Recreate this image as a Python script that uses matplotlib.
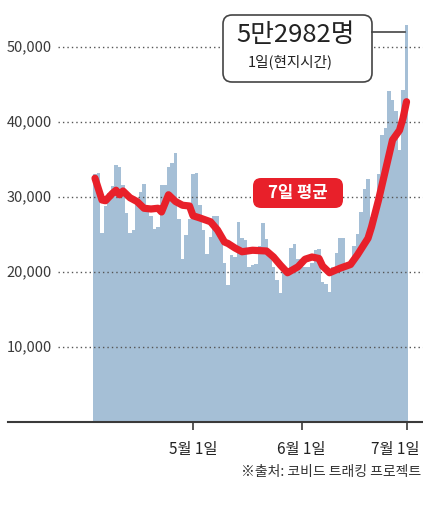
import numpy as np
import matplotlib.pyplot as plt
import matplotlib.dates as mdates
import matplotlib.transforms as mtransforms
from matplotlib.patches import FancyBboxPatch
from matplotlib.lines import Line2D

plt.rcParams['font.family'] = ['Noto Sans CJK KR', 'DejaVu Sans']

# daily new cases, Apr 3 - Jul 1 2020
first_day = np.datetime64('2020-04-03')
daily = [
    33000, 33200, 25200, 28800, 30500, 31500, 34300, 34000, 31600, 27900,
    25200, 25600, 29500, 30700, 31700, 28700, 27400, 25700, 26000, 31600,
    31600, 34000, 34600, 35900, 27000, 21800, 24900, 27100,
    # May
    33000, 33200, 28900, 25600, 22400, 24700, 27400, 27400, 24500, 21200,
    18300, 22300, 22000, 26700, 24500, 24300, 20700, 20900, 21100, 23500,
    26500, 24400, 22000, 20700, 18900, 17200, 20000, 20600, 23200, 23700,
    21800,
    # June
    21000, 20700, 20700, 21200, 23000, 23100, 18700, 18400, 17300, 20700,
    22500, 24500, 24500, 21000, 20500, 23500, 25000, 28000, 31000, 32400,
    27300, 27500, 33000, 38300, 39200, 44200, 43000, 41500, 36300, 44300,
    # Jul 1
    52982,
]
days = first_day + np.arange(len(daily))

# 7-day average line, vertices
avg_days = np.array(['2020-04-03', '2020-04-05', '2020-04-06', '2020-04-08', '2020-04-09',
                     '2020-04-10', '2020-04-11', '2020-04-13', '2020-04-15', '2020-04-17',
                     '2020-04-19', '2020-04-21', '2020-04-22', '2020-04-24', '2020-04-26',
                     '2020-04-28', '2020-04-30', '2020-05-01', '2020-05-03', '2020-05-06',
                     '2020-05-08', '2020-05-10', '2020-05-11', '2020-05-13', '2020-05-15',
                     '2020-05-18', '2020-05-22', '2020-05-24', '2020-05-26', '2020-05-28',
                     '2020-05-31', '2020-06-02', '2020-06-04', '2020-06-06', '2020-06-07',
                     '2020-06-09', '2020-06-12', '2020-06-15', '2020-06-17', '2020-06-20',
                     '2020-06-21', '2020-06-23', '2020-06-25', '2020-06-27', '2020-06-29',
                     '2020-06-30', '2020-07-01'], dtype='datetime64[D]')
avg_vals = [32500, 29600, 29500, 30500, 30900, 30300, 30800, 29900, 29400, 28500,
            28400, 28500, 28000, 30300, 29400, 28900, 28800, 27500, 27200, 26700,
            25600, 24000, 23800, 23200, 22700, 22900, 22800, 22000, 20900, 19900,
            20700, 21700, 22000, 21800, 20800, 19900, 20500, 21000, 22300, 24500,
            26000, 29600, 33600, 37600, 38900, 40500, 42700]

y_ticks = [10000, 20000, 30000, 40000, 50000]
x_ticks = np.array(['2020-05-01', '2020-06-01', '2020-07-01'], dtype='datetime64[D]')
x_labels = ['5월 1일', '6월 1일', '7월 1일']

bar_color = '#a5bfd6'
red = '#e8202a'
dark = '#3a3a3a'

fig = plt.figure(figsize=(4.23, 5.12), dpi=100)
ax = fig.add_axes([8 / 423, 90 / 512, 415 / 423, 420 / 512])

ax.bar(days, daily, width=1.0, color=bar_color, linewidth=0, zorder=1)

for v in y_ticks:
    ax.axhline(v, xmin=50 / 415, xmax=1, color='#555555', lw=1.0,
               linestyle=(0, (1, 2.2)), zorder=2)
    ax.text(44 / 415, v, f'{v:,}', transform=ax.get_yaxis_transform(),
            ha='right', va='center', fontsize=10.5, color=dark)

ax.plot(avg_days, avg_vals, color=red, lw=5.2, solid_capstyle='round',
        solid_joinstyle='round', zorder=3)

may1 = mdates.date2num(np.datetime64('2020-05-01'))
ax.set_xlim(may1 - 52.86, may1 + 65.71)
ax.set_ylim(0, 56000)

for s in ['top', 'right', 'left']:
    ax.spines[s].set_visible(False)
ax.spines['bottom'].set_color(dark)
ax.spines['bottom'].set_linewidth(1.5)
ax.set_yticks([])
ax.set_xticks(x_ticks)
ax.set_xticklabels(x_labels)
ax.tick_params(axis='x', length=6, width=1.2, color=dark, pad=8,
               labelsize=11, labelcolor='#222222')
# last label sits a little left of its tick so it stays on the canvas
last = ax.get_xticklabels()[-1]
last.set_transform(last.get_transform() +
                   mtransforms.ScaledTranslation(-8 / 72, 0, fig.dpi_scale_trans))

# red "7일 평균" label
fig.add_artist(FancyBboxPatch((253, 304), 90, 30, boxstyle='round,pad=0,rounding_size=8',
                              transform=None, facecolor=red, edgecolor='none'))
fig.text(298 / 423, 319 / 512, '7일 평균', ha='center', va='center', color='white',
         fontsize=12, fontweight='bold')

# callout box for the Jul 1 value
fig.add_artist(FancyBboxPatch((223, 430), 149, 67, boxstyle='round,pad=0,rounding_size=9',
                              transform=None, facecolor='white', edgecolor='#444444', lw=1.2))
fig.text(296 / 423, 477 / 512, '5만2982명', ha='center', va='center', fontsize=18.5,
         fontweight='medium', color='#222222')
fig.text(290 / 423, 450 / 512, '1일(현지시간)', ha='center', va='center', fontsize=10.5,
         color='#222222')
fig.add_artist(Line2D([372, 405], [480, 480], transform=None, color='#444444', lw=1.2))

fig.text(421 / 423, 40 / 512, '※출처: 코비드 트래킹 프로젝트', ha='right', va='center',
         fontsize=10, color='#333333')

fig.savefig('out.png', dpi=100)
